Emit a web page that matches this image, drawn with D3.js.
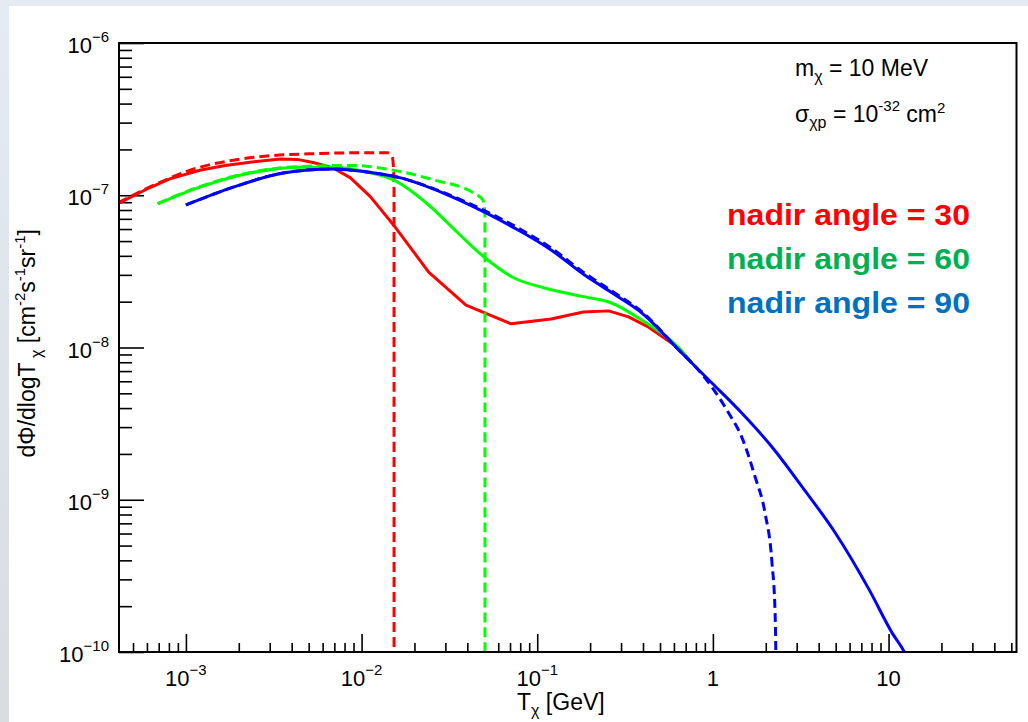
<!DOCTYPE html>
<html>
<head>
<meta charset="utf-8">
<script src="https://cdn.jsdelivr.net/npm/d3@7"></script>
<style>
  html, body { margin: 0; padding: 0; background: #ffffff; }
  svg { display: block; }
  text { font-family: "Liberation Sans", Arial, sans-serif; }
</style>
</head>
<body>
<svg id="chart" width="1028" height="722"></svg>
<script>
// ---------------- data ----------------
const xMajorTicks = [1e-3, 1e-2, 1e-1, 1, 10];
const xTickLabels = [["10", "\u22123"], ["10", "\u22122"], ["10", "\u22121"], ["1", ""], ["10", ""]];
const yMajorTicks = [1e-10, 1e-9, 1e-8, 1e-7, 1e-6];
const yTickLabels = [["10", "\u221210"], ["10", "\u22129"], ["10", "\u22128"], ["10", "\u22127"], ["10", "\u22126"]];

const redSolidT = [4.1e-4, 6.2e-4, 8.1e-4, 1.2e-3, 1.67e-3, 2.32e-3, 3.45e-3, 4.3e-3, 5.3e-3, 6.9e-3, 8.65e-3, 1.125e-2, 1.52e-2, 2.41e-2, 3.93e-2, 7.1e-2, 0.12, 0.183, 0.255, 0.331, 0.431, 0.64, 0.76];
const redSolidF = [8.8e-8, 1.12e-7, 1.28e-7, 1.46e-7, 1.57e-7, 1.65e-7, 1.73e-7, 1.72e-7, 1.64e-7, 1.51e-7, 1.30e-7, 9.75e-8, 6.38e-8, 3.13e-8, 1.90e-8, 1.43e-8, 1.54e-8, 1.71e-8, 1.74e-8, 1.59e-8, 1.36e-8, 9.93e-9, 7.9e-9];

const redDashT = [4.1e-4, 6.2e-4, 1.16e-3, 1.86e-3, 2.9e-3, 5e-3, 1e-2, 1.41e-2, 1.50e-2, 1.53e-2, 1.531e-2];
const redDashF = [8.9e-8, 1.13e-7, 1.51e-7, 1.70e-7, 1.81e-7, 1.87e-7, 1.90e-7, 1.90e-7, 1.76e-7, 1.2e-7, 5e-11];

const greenSolidT = [6.9e-4, 1.2e-3, 2.32e-3, 4.48e-3, 6.9e-3, 1.08e-2, 1.52e-2, 2.41e-2, 3.54e-2, 4.98e-2, 7.4e-2, 0.11, 0.186, 0.265, 0.378, 0.64, 0.76];
const greenSolidF = [8.77e-8, 1.13e-7, 1.40e-7, 1.53e-7, 1.53e-7, 1.42e-7, 1.26e-7, 8.63e-8, 5.65e-8, 3.93e-8, 2.86e-8, 2.46e-8, 2.15e-8, 1.96e-8, 1.56e-8, 9.93e-9, 7.9e-9];

const greenDashT = [6.9e-4, 1.2e-3, 2.32e-3, 4.48e-3, 8.65e-3, 1.47e-2, 2.58e-2, 4.37e-2, 4.91e-2, 5.04e-2, 5.041e-2];
const greenDashF = [8.8e-8, 1.14e-7, 1.41e-7, 1.545e-7, 1.57e-7, 1.47e-7, 1.26e-7, 1.03e-7, 9.3e-8, 7.5e-8, 5e-11];

const blueSolidT = [1e-3, 1.86e-3, 3.58e-3, 6.9e-3, 1.08e-2, 1.67e-2, 2.94e-2, 4.98e-2, 7.78e-2, 0.12, 0.186, 0.29, 0.393, 0.665, 0.987, 1.46, 2.17, 3.23, 4.98, 7.78, 10.5, 12.3, 14];
const blueSolidF = [8.63e-8, 1.13e-7, 1.40e-7, 1.49e-7, 1.42e-7, 1.30e-7, 1.03e-7, 7.77e-8, 5.91e-8, 4.37e-8, 2.99e-8, 2.15e-8, 1.69e-8, 9.2e-9, 5.85e-9, 3.71e-9, 2.22e-9, 1.21e-9, 6.05e-10, 2.55e-10, 1.33e-10, 1e-10, 7e-11];

const blueDashT = [1e-3, 1.86e-3, 3.58e-3, 6.9e-3, 1.08e-2, 1.67e-2, 2.94e-2, 4.98e-2, 7.78e-2, 0.12, 0.186, 0.29, 0.393, 0.665, 0.76, 0.987, 1.23, 1.46, 1.74, 1.98, 2.17, 2.26, 2.28, 2.29];
const blueDashF = [8.63e-8, 1.13e-7, 1.40e-7, 1.49e-7, 1.42e-7, 1.30e-7, 1.04e-7, 7.95e-8, 6.1e-8, 4.5e-8, 3.08e-8, 2.2e-8, 1.72e-8, 9.2e-9, 7.9e-9, 5.5e-9, 3.71e-9, 2.58e-9, 1.41e-9, 8.2e-10, 3.85e-10, 1.8e-10, 1.05e-10, 6e-11];

const legendLabels = ["nadir angle = 30", "nadir angle = 60", "nadir angle = 90"];
const legendColors = ["#ff0000", "#00b050", "#0070c0"];

// ---------------- layout ----------------
const W = 1028, H = 722;
const frame = { left: 119, right: 1016.5, top: 43, bottom: 652 };
const svg = d3.select("#chart");

const defs = svg.append("defs");
const grad = defs.append("linearGradient").attr("id", "leftStrip").attr("x1", 0).attr("y1", 0).attr("x2", 0).attr("y2", 1);
grad.append("stop").attr("offset", "0%").attr("stop-color", "#e4ebf3");
grad.append("stop").attr("offset", "100%").attr("stop-color", "#d9dce1");
defs.append("clipPath").attr("id", "plotClip").append("rect")
  .attr("x", frame.left).attr("y", frame.top)
  .attr("width", frame.right - frame.left).attr("height", frame.bottom - frame.top);

svg.append("rect").attr("x", 0).attr("y", 0).attr("width", W).attr("height", H).attr("fill", "#e4ebf3");
svg.append("rect").attr("x", 0).attr("y", 0).attr("width", 9).attr("height", H).attr("fill", "url(#leftStrip)");
svg.append("rect").attr("x", 9).attr("y", 6).attr("width", W - 9).attr("height", H - 6).attr("fill", "#ffffff");

const x = d3.scaleLog().domain([4.16e-4, 53.5]).range([frame.left, frame.right]);
const y = d3.scaleLog().domain([1e-10, 1e-6]).range([frame.bottom, frame.top]);

// minor ticks
const xMinor = [];
for (let e = -4; e <= 1; e++) for (let k = 2; k <= 9; k++) {
  const v = k * Math.pow(10, e);
  if (v > x.domain()[0] && v < x.domain()[1]) xMinor.push(v);
}
const yMinor = [];
for (let e = -10; e <= -7; e++) for (let k = 2; k <= 9; k++) yMinor.push(k * Math.pow(10, e));

// x axis ticks
const xAxisMajor = d3.axisTop(x).tickValues(xMajorTicks).tickSize(18).tickFormat("");
const xAxisMinor = d3.axisTop(x).tickValues(xMinor).tickSize(9).tickFormat("");
[xAxisMajor, xAxisMinor].forEach(ax => {
  const g = svg.append("g").attr("transform", `translate(0,${frame.bottom})`).call(ax);
  g.select(".domain").remove();
  g.selectAll("line").attr("stroke", "#000").attr("stroke-width", 1.6);
});
const yAxisMajor = d3.axisRight(y).tickValues(yMajorTicks).tickSize(25).tickFormat("");
const yAxisMinor = d3.axisRight(y).tickValues(yMinor).tickSize(13).tickFormat("");
[yAxisMajor, yAxisMinor].forEach(ax => {
  const g = svg.append("g").attr("transform", `translate(${frame.left},0)`).call(ax);
  g.select(".domain").remove();
  g.selectAll("line").attr("stroke", "#000").attr("stroke-width", 1.6);
});

// tick labels
xMajorTicks.forEach((v, i) => {
  const [base, exp] = xTickLabels[i];
  const t = svg.append("text").attr("y", 686).attr("font-size", 22).attr("fill", "#000");
  t.append("tspan").text(base);
  if (exp) t.append("tspan").attr("font-size", 15).attr("dy", -11).text(exp);
  const w = t.node().getComputedTextLength();
  t.attr("x", x(v) - w / 2);
});
yMajorTicks.forEach((v, i) => {
  const [base, exp] = yTickLabels[i];
  const t = svg.append("text").attr("y", y(v) + 10).attr("font-size", 22).attr("fill", "#000");
  t.append("tspan").text(base);
  t.append("tspan").attr("font-size", 15).attr("dy", -11).text(exp);
  const w = t.node().getComputedTextLength();
  t.attr("x", 109 - w);
});

// axis titles
const xt = svg.append("text").attr("x", 517).attr("y", 710).attr("font-size", 23).attr("fill", "#000");
xt.append("tspan").text("T");
xt.append("tspan").attr("font-size", 16).attr("dy", 6).text("\u03c7");
xt.append("tspan").attr("dy", -6).text(" [GeV]");

const yt = svg.append("text").attr("transform", "translate(35,229) rotate(-90)")
  .attr("text-anchor", "end").attr("font-size", 23).attr("fill", "#000");
yt.append("tspan").text("d\u03a6/dlogT");
yt.append("tspan").attr("font-size", 16).attr("dy", 7).text(" \u03c7");
yt.append("tspan").attr("dy", -7).text(" [cm");
yt.append("tspan").attr("font-size", 15).attr("dy", -10).text("-2");
yt.append("tspan").attr("dy", 10).text("s");
yt.append("tspan").attr("font-size", 15).attr("dy", -10).text("-1");
yt.append("tspan").attr("dy", 10).text("sr");
yt.append("tspan").attr("font-size", 15).attr("dy", -10).text("-1");
yt.append("tspan").attr("dy", 10).text("]");

// curves
const plot = svg.append("g").attr("clip-path", "url(#plotClip)");
const smooth = d3.line().x(d => x(d[0])).y(d => y(d[1])).curve(d3.curveMonotoneX);
const straight = d3.line().x(d => x(d[0])).y(d => y(d[1]));
const zip = (a, b) => a.map((v, i) => [v, b[i]]);
const series = [
  { d: zip(redSolidT, redSolidF), c: "#ff0000", dash: null, gen: straight },
  { d: zip(redDashT, redDashF), c: "#ff0000", dash: "10,5", gen: smooth },
  { d: zip(greenSolidT, greenSolidF), c: "#00ff00", dash: null, gen: smooth },
  { d: zip(greenDashT, greenDashF), c: "#00ff00", dash: "10,5", gen: smooth },
  { d: zip(blueSolidT, blueSolidF), c: "#0000ff", dash: null, gen: smooth },
  { d: zip(blueDashT, blueDashF), c: "#0000ff", dash: "9,5", gen: smooth }
];
series.forEach(s => {
  plot.append("path").attr("d", s.gen(s.d)).attr("fill", "none")
    .attr("stroke", s.c).attr("stroke-width", 3).attr("stroke-linejoin", "round")
    .attr("stroke-dasharray", s.dash);
});

// frame
svg.append("rect").attr("x", frame.left).attr("y", frame.top)
  .attr("width", frame.right - frame.left).attr("height", frame.bottom - frame.top)
  .attr("fill", "none").attr("stroke", "#000").attr("stroke-width", 2);

// parameter text
const t1 = svg.append("text").attr("x", 795).attr("y", 76).attr("font-size", 23).attr("fill", "#000");
t1.append("tspan").text("m");
t1.append("tspan").attr("font-size", 16).attr("dy", 6).text("\u03c7");
t1.append("tspan").attr("dy", -6).text(" = 10 MeV");
const t2 = svg.append("text").attr("x", 795).attr("y", 122).attr("font-size", 23).attr("fill", "#000");
t2.append("tspan").text("\u03c3");
t2.append("tspan").attr("font-size", 16).attr("dy", 6).text("\u03c7p");
t2.append("tspan").attr("dy", -6).text(" = 10");
t2.append("tspan").attr("font-size", 15).attr("dy", -11).text("-32");
t2.append("tspan").attr("dy", 11).text(" cm");
t2.append("tspan").attr("font-size", 15).attr("dy", -9).text("2");

// legend labels
legendLabels.forEach((lab, i) => {
  svg.append("text").attr("x", 727).attr("y", 225 + i * 44)
    .attr("font-family", "Lato, 'Open Sans', sans-serif").attr("font-weight", 700)
    .attr("font-size", 29).attr("fill", legendColors[i])
    .attr("textLength", 243).attr("lengthAdjust", "spacingAndGlyphs")
    .text(lab);
});
</script>
</body>
</html>
